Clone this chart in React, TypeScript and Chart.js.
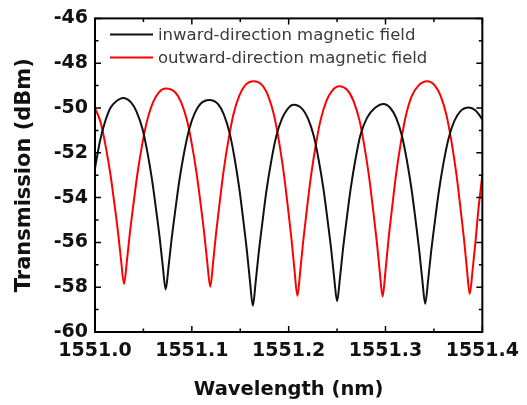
import React, { useEffect, useRef } from 'react';
import { Chart, registerables } from 'chart.js';

Chart.register(...registerables);

// ---- data ----
const seriesLabels = ['inward-direction magnetic field', 'outward-direction magnetic field'];
const seriesColors = ['#111111', '#ff0000'];

const inwardX = [
  1551.000, 1551.005, 1551.010, 1551.016, 1551.022, 1551.029,
  1551.037, 1551.043, 1551.049, 1551.054, 1551.059, 1551.063, 1551.067, 1551.070, 1551.073,
  1551.076, 1551.079, 1551.083, 1551.087, 1551.092, 1551.097, 1551.103, 1551.109, 1551.118,
  1551.127, 1551.133, 1551.139, 1551.144, 1551.149, 1551.153, 1551.157, 1551.160, 1551.163,
  1551.166, 1551.169, 1551.173, 1551.177, 1551.182, 1551.187, 1551.193, 1551.199, 1551.205,
  1551.214, 1551.220, 1551.226, 1551.231, 1551.236, 1551.240, 1551.244, 1551.247, 1551.250,
  1551.253, 1551.256, 1551.260, 1551.264, 1551.269, 1551.274, 1551.281, 1551.289, 1551.298,
  1551.305, 1551.311, 1551.317, 1551.322, 1551.327, 1551.331, 1551.335, 1551.338, 1551.341,
  1551.344, 1551.347, 1551.351, 1551.355, 1551.360, 1551.365, 1551.371, 1551.377, 1551.386,
  1551.393, 1551.400,
];
const inwardY = [
  -52.69, -51.51, -50.67, -49.99, -49.70, -49.55,
  -49.74, -50.17, -50.93, -51.95, -53.23, -54.51, -55.87, -57.06, -58.10,
  -57.07, -55.89, -54.54, -53.27, -52.00, -50.99, -50.23, -49.81, -49.64,
  -49.82, -50.28, -51.11, -52.21, -53.59, -54.96, -56.43, -57.72, -58.82,
  -57.74, -56.49, -55.06, -53.71, -52.37, -51.29, -50.49, -50.04, -49.86,
  -50.04, -50.47, -51.26, -52.32, -53.63, -54.95, -56.35, -57.58, -58.63,
  -57.57, -56.34, -54.93, -53.61, -52.29, -51.23, -50.43, -50.00, -49.82,
  -50.00, -50.44, -51.25, -52.32, -53.66, -54.99, -56.42, -57.67, -58.74,
  -57.69, -56.46, -55.06, -53.75, -52.43, -51.38, -50.59, -50.16, -49.98,
  -50.11, -50.50,
];

const outwardX = [
  1551.000, 1551.006, 1551.011, 1551.016, 1551.020, 1551.024, 1551.027, 1551.030,
  1551.033, 1551.036, 1551.040, 1551.044, 1551.049, 1551.054, 1551.060, 1551.066, 1551.073,
  1551.083, 1551.089, 1551.095, 1551.100, 1551.105, 1551.109, 1551.113, 1551.116, 1551.119,
  1551.122, 1551.125, 1551.129, 1551.133, 1551.138, 1551.143, 1551.149, 1551.155, 1551.164,
  1551.173, 1551.179, 1551.185, 1551.190, 1551.195, 1551.199, 1551.203, 1551.206, 1551.209,
  1551.212, 1551.215, 1551.219, 1551.223, 1551.228, 1551.233, 1551.239, 1551.245, 1551.252,
  1551.261, 1551.267, 1551.273, 1551.278, 1551.283, 1551.287, 1551.291, 1551.294, 1551.297,
  1551.300, 1551.303, 1551.307, 1551.311, 1551.316, 1551.321, 1551.327, 1551.334, 1551.343,
  1551.351, 1551.357, 1551.363, 1551.368, 1551.373, 1551.377, 1551.381, 1551.384, 1551.387,
  1551.390, 1551.393, 1551.396, 1551.400,
];
const outwardY = [
  -50.00, -50.67, -51.70, -52.98, -54.26, -55.63, -56.83, -57.86,
  -56.81, -55.59, -54.19, -52.88, -51.57, -50.53, -49.74, -49.30, -49.13,
  -49.31, -49.75, -50.55, -51.61, -52.94, -54.26, -55.68, -56.92, -57.98,
  -56.88, -55.60, -54.13, -52.75, -51.38, -50.28, -49.45, -48.99, -48.81,
  -49.00, -49.48, -50.34, -51.49, -52.93, -54.36, -55.89, -57.23, -58.38,
  -57.26, -55.95, -54.45, -53.05, -51.65, -50.53, -49.68, -49.22, -49.03,
  -49.22, -49.69, -50.53, -51.66, -53.06, -54.47, -55.97, -57.28, -58.41,
  -57.26, -55.91, -54.38, -52.94, -51.50, -50.35, -49.48, -49.00, -48.81,
  -49.00, -49.47, -50.33, -51.47, -52.89, -54.31, -55.83, -57.16, -58.30,
  -57.21, -55.93, -54.50, -53.00,
];

const xMajorTicks = [1551.0, 1551.1, 1551.2, 1551.3, 1551.4];
const xMinorTicks = [1551.05, 1551.15, 1551.25, 1551.35];
const yMajorTicks = [-60, -58, -56, -54, -52, -50, -48, -46];
const yMinorTicks = [-59, -57, -55, -53, -51, -49, -47];

const xTitle = 'Wavelength (nm)';
const yTitle = 'Transmission (dBm)';

// ---- plugins ----
const frameTicksPlugin = {
  id: 'frameTicks',
  afterDatasetsDraw(chart: any) {
    const { ctx, chartArea, scales } = chart;
    const { left, right, top, bottom } = chartArea;
    const xs = scales.x;
    const ys = scales.y;
    ctx.save();
    ctx.strokeStyle = '#000';
    ctx.lineWidth = 1.5;
    const major = 6;
    const minor = 3.5;
    ctx.beginPath();
    const xt = (v: number, len: number) => {
      const px = xs.getPixelForValue(v);
      ctx.moveTo(px, bottom);
      ctx.lineTo(px, bottom - len);
      ctx.moveTo(px, top);
      ctx.lineTo(px, top + len);
    };
    const yt = (v: number, len: number) => {
      const py = ys.getPixelForValue(v);
      ctx.moveTo(left, py);
      ctx.lineTo(left + len, py);
      ctx.moveTo(right, py);
      ctx.lineTo(right - len, py);
    };
    xMajorTicks.forEach((v) => xt(v, major));
    xMinorTicks.forEach((v) => xt(v, minor));
    yMajorTicks.forEach((v) => yt(v, major));
    yMinorTicks.forEach((v) => yt(v, minor));
    ctx.stroke();
    ctx.lineWidth = 2;
    ctx.strokeRect(left, top, right - left, bottom - top);
    ctx.restore();
  },
};

const legendPlugin = {
  id: 'insideLegend',
  afterDraw(chart: any) {
    const { ctx, chartArea } = chart;
    const x0 = chartArea.left + 15;
    const lineLen = 43;
    const y0 = chartArea.top + 16;
    const rowGap = 23;
    ctx.save();
    ctx.font = '16.5px "DejaVu Sans"';
    ctx.textBaseline = 'middle';
    ctx.textAlign = 'left';
    chart.data.datasets.forEach((ds: any, i: number) => {
      const y = y0 + i * rowGap;
      ctx.strokeStyle = ds.borderColor;
      ctx.lineWidth = 2;
      ctx.beginPath();
      ctx.moveTo(x0, y);
      ctx.lineTo(x0 + lineLen, y);
      ctx.stroke();
      ctx.fillStyle = '#3a3a3a';
      ctx.fillText(ds.label, x0 + lineLen + 5, y + 1);
    });
    ctx.restore();
  },
};

export default function App() {
  const canvasRef = useRef<HTMLCanvasElement | null>(null);

  useEffect(() => {
    const canvas = canvasRef.current;
    if (!canvas) return;
    const chart = new Chart(canvas, {
      type: 'line',
      data: {
        datasets: [
          {
            label: seriesLabels[0],
            data: inwardX.map((x, i) => ({ x, y: inwardY[i] })),
            borderColor: seriesColors[0],
            backgroundColor: seriesColors[0],
            borderWidth: 2,
            pointRadius: 0,
            cubicInterpolationMode: 'monotone',
            fill: false,
          },
          {
            label: seriesLabels[1],
            data: outwardX.map((x, i) => ({ x, y: outwardY[i] })),
            borderColor: seriesColors[1],
            backgroundColor: seriesColors[1],
            borderWidth: 2,
            pointRadius: 0,
            cubicInterpolationMode: 'monotone',
            fill: false,
          },
        ],
      },
      options: {
        responsive: false,
        animation: false,
        events: [],
        layout: { padding: { left: 0, top: 14, right: 38, bottom: 0 } },
        plugins: {
          legend: { display: false },
          tooltip: { enabled: false },
        },
        scales: {
          x: {
            type: 'linear',
            min: 1551.0,
            max: 1551.4,
            afterFit: (s: any) => { s.height = 73; },
            grid: { display: false, drawTicks: false },
            border: { display: false },
            ticks: {
              stepSize: 0.1,
              padding: 8,
              color: '#111',
              font: { family: '"DejaVu Sans"', weight: 'bold', size: 19 },
              maxRotation: 0,
              callback: (v: any) => Number(v).toFixed(1),
            },
            title: {
              display: true,
              text: xTitle,
              color: '#111',
              font: { family: '"DejaVu Sans"', weight: 'bold', size: 19.5 },
              padding: { top: 0, bottom: 3 },
            },
          },
          y: {
            type: 'linear',
            min: -60,
            max: -46,
            afterFit: (s: any) => { s.width = 95; },
            grid: { display: false, drawTicks: false },
            border: { display: false },
            ticks: {
              stepSize: 2,
              padding: 7,
              color: '#111',
              font: { family: '"DejaVu Sans"', weight: 'bold', size: 19 },
              callback: (v: any) => String(v),
            },
            title: {
              display: true,
              text: yTitle,
              color: '#111',
              font: { family: '"DejaVu Sans"', weight: 'bold', size: 21 },
              padding: { top: 12, bottom: 0 },
            },
          },
        },
      } as any,
      plugins: [frameTicksPlugin, legendPlugin],
    });
    return () => chart.destroy();
  }, []);

  return (
    <div style={{ position: 'absolute', left: 0, top: 0, width: 527, height: 405, background: '#fff' }}>
      <canvas ref={canvasRef} width={527} height={405} style={{ display: 'block' }} />
    </div>
  );
}
